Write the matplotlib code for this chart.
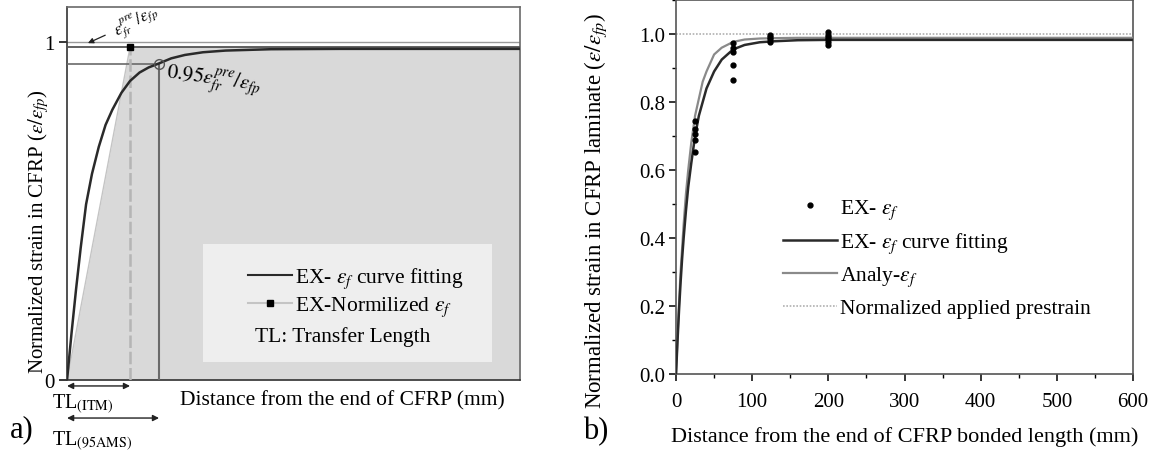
import matplotlib
matplotlib.use('Agg')
import matplotlib.pyplot as plt
from matplotlib.patches import Rectangle
from matplotlib.lines import Line2D
from matplotlib.ticker import MultipleLocator

plt.rcParams['font.family'] = ['Liberation Serif', 'DejaVu Serif']
plt.rcParams['mathtext.fontset'] = 'stix'

# ---- panel a (schematic, x in arbitrary units) ----
a_fit_x = [0, 1, 2, 3, 4.2, 5.5, 7, 8.5, 10, 12, 13.9, 16, 18, 20.3,
           23, 26, 30, 35, 45, 60, 80, 100]
a_fit_y = [0, 0.14, 0.27, 0.39, 0.52, 0.61, 0.69, 0.755, 0.80, 0.85, 0.885,
           0.91, 0.925, 0.937, 0.952, 0.962, 0.970, 0.975, 0.979, 0.980,
           0.980, 0.980]
a_norm_x = [0, 13.9, 100]
a_norm_y = [0, 0.985, 0.982]
a_point_x = [13.9]
a_point_y = [0.985]
a_pre = 0.985
a_95 = 0.936
a_tl_itm = 13.9
a_tl_95 = 20.3

# ---- panel b ----
b_ex_x = [25, 25, 25, 25, 25, 75, 75, 75, 75, 75, 123, 123, 123, 123,
          200, 200, 200, 200, 200, 200]
b_ex_y = [0.653, 0.688, 0.705, 0.72, 0.743, 0.865, 0.91, 0.947, 0.96, 0.974,
          0.978, 0.985, 0.99, 0.997, 0.968, 0.978, 0.985, 0.99, 0.997, 1.005]
b_fit_x = [0, 2, 4, 6, 8, 10, 13, 16, 20, 25, 30, 35, 40, 50, 60, 75, 90, 110,
           130, 160, 200, 300, 400, 500, 600]
b_fit_y = [0, 0.10, 0.19, 0.27, 0.34, 0.40, 0.48, 0.55, 0.62, 0.70, 0.76, 0.80,
           0.84, 0.89, 0.925, 0.955, 0.968, 0.976, 0.979, 0.982, 0.983, 0.983,
           0.983, 0.983, 0.983]
b_analy_x = [0, 2, 4, 6, 8, 10, 13, 16, 20, 25, 30, 35, 40, 50, 60, 75, 90, 110,
             130, 160, 200, 300, 400, 500, 600]
b_analy_y = [0, 0.11, 0.21, 0.30, 0.37, 0.44, 0.53, 0.60, 0.68, 0.76, 0.81, 0.86,
             0.89, 0.94, 0.96, 0.977, 0.984, 0.987, 0.988, 0.989, 0.989, 0.989,
             0.989, 0.989, 0.989]
b_prestrain = 1.0

fig = plt.figure(figsize=(11.56, 4.56), dpi=100)

# ================= panel a =================
ax = fig.add_axes([0.058, 0.1645, 0.392, 0.818])
ax.set_xlim(0, 100)
ax.set_ylim(0, 1.104)

ax.fill_between(a_norm_x, a_norm_y, 0, color='#d9d9d9', lw=0, zorder=1)
ax.plot(a_norm_x, a_norm_y, color='#c4c4c4', lw=1.0, zorder=2)
ax.axhline(1.0, color='#9a9a9a', lw=1.0, zorder=2)
ax.axhline(a_pre, color='#555555', lw=1.3, zorder=3)
ax.plot([0, a_tl_95], [a_95, a_95], color='#6a6a6a', lw=1.2, zorder=3)
ax.plot([a_tl_itm, a_tl_itm], [0, a_pre], color='#b5b5b5', lw=1.8,
        ls=(0, (5, 1.5)), zorder=3)
ax.plot([a_tl_95, a_tl_95], [0, a_95], color='#6a6a6a', lw=1.5, zorder=3)
ax.plot(a_fit_x, a_fit_y, color='#2a2a2a', lw=1.8, zorder=4)
ax.plot(a_point_x, a_point_y, 's', color='black', ms=5, zorder=5)
ax.plot([a_tl_95], [a_95], 'o', mfc='none', mec='#555555', ms=7, mew=1.0, zorder=5)

# legend box
ax.add_patch(Rectangle((0.300, 0.048), 0.638, 0.317, transform=ax.transAxes,
                       facecolor='#eeeeee', edgecolor='none', zorder=6))
h1 = Line2D([], [], color='#2a2a2a', lw=1.5)
h2 = Line2D([], [], color='#c4c4c4', lw=1.5, marker='s', mfc='black', mec='black', ms=4)
ax.legend([h1, h2], [r'EX- $\varepsilon_f$ curve fitting', r'EX-Normilized $\varepsilon_f$'],
          loc='upper left', bbox_to_anchor=(0.40, 0.306), frameon=False,
          fontsize=15.5, handlelength=2.05, handletextpad=0.1, labelspacing=0.2,
          borderpad=0, borderaxespad=0).set_zorder(7)
ax.text(0.415, 0.118, 'TL: Transfer Length', transform=ax.transAxes, fontsize=15.5,
        ha='left', va='center', zorder=8)

for s in ['top', 'right']:
    ax.spines[s].set_color('#6a6a6a')
for s in ['left', 'bottom']:
    ax.spines[s].set_color('#333333')
for s in ax.spines.values():
    s.set_linewidth(1.2)
ax.set_xticks([])
ax.set_yticks([0, 1])
ax.set_yticklabels(['0', '1'])
ax.tick_params(axis='y', labelsize=15, length=6, width=1.1, pad=3)

ax.text(-0.062, 0.40, r'Normalized strain in CFRP ($\varepsilon/\varepsilon_{fp}$)',
        transform=ax.transAxes, rotation=90, ha='center', va='center', fontsize=15)
ax.text(0.607, -0.052, 'Distance from the end of CFRP (mm)', transform=ax.transAxes,
        ha='center', va='center', fontsize=15.5)

# annotations
ax.annotate(r'$\varepsilon_{fr}^{pre}/\varepsilon_{fp}$', xy=(4.6, 0.997),
            xytext=(15.2, 1.062), fontsize=12, rotation=28, ha='center', va='center',
            arrowprops=dict(arrowstyle='-|>', color='#222222', lw=0.9,
                            mutation_scale=8, shrinkA=1, shrinkB=0))
ax.text(21.5, 0.885, r'$0.95\varepsilon_{fr}^{pre}/\varepsilon_{fp}$', fontsize=15,
        rotation=-8, ha='left', va='center', zorder=8)

ax.annotate('', xy=(0, -0.016), xytext=(a_tl_itm, -0.016),
            xycoords=('data', 'axes fraction'), textcoords=('data', 'axes fraction'),
            arrowprops=dict(arrowstyle='<|-|>', color='#222222', lw=1.0,
                            mutation_scale=9, shrinkA=0, shrinkB=0),
            annotation_clip=False)
ax.annotate('', xy=(0, -0.102), xytext=(a_tl_95, -0.102),
            xycoords=('data', 'axes fraction'), textcoords=('data', 'axes fraction'),
            arrowprops=dict(arrowstyle='<|-|>', color='#222222', lw=1.0,
                            mutation_scale=9, shrinkA=0, shrinkB=0),
            annotation_clip=False)
fig.text(52 / 1156, 1 - 404 / 456, r'TL$_{\mathrm{(ITM)}}$', fontsize=14.5,
         ha='left', va='center')
fig.text(52 / 1156, 1 - 441 / 456, r'TL$_{\mathrm{(95AMS)}}$', fontsize=14.5,
         ha='left', va='center')
fig.text(10 / 1156, 1 - 430 / 456, 'a)', fontsize=22, ha='left', va='center')

# ================= panel b =================
bx = fig.add_axes([0.5848, 0.1776, 0.3953, 0.820])
bx.set_xlim(0, 600)
bx.set_ylim(0, 1.1)

bx.axhline(b_prestrain, color='#b0b0b0', lw=1.2, ls=(0, (1, 1)), zorder=2,
           label='Normalized applied prestrain')
bx.plot(b_analy_x, b_analy_y, color='#8a8a8a', lw=1.6, zorder=3, label=r'Analy-$\varepsilon_f$')
bx.plot(b_fit_x, b_fit_y, color='#2a2a2a', lw=1.8, zorder=4,
        label=r'EX- $\varepsilon_f$ curve fitting')
bx.plot(b_ex_x, b_ex_y, 'o', color='black', ms=3.5, zorder=5, label=r'EX- $\varepsilon_f$')

hs, ls = bx.get_legend_handles_labels()
order = [3, 2, 1, 0]
bx.legend([hs[i] for i in order], [ls[i] for i in order], loc='upper left',
          bbox_to_anchor=(0.234, 0.472), frameon=False, fontsize=15.5,
          handlelength=2.5, handletextpad=0.15, labelspacing=0.45,
          borderpad=0, borderaxespad=0)

for s in bx.spines.values():
    s.set_color('#555555')
    s.set_linewidth(1.2)
bx.xaxis.set_major_locator(MultipleLocator(100))
bx.xaxis.set_minor_locator(MultipleLocator(50))
bx.yaxis.set_minor_locator(MultipleLocator(0.1))
bx.set_yticks([0, 0.2, 0.4, 0.6, 0.8, 1.0])
bx.set_yticklabels(['0.0', '0.2', '0.4', '0.6', '0.8', '1.0'])
bx.tick_params(which='major', labelsize=15, length=5, width=1.1, direction='out')
bx.tick_params(axis='x', which='major', pad=8)
bx.tick_params(axis='y', which='major', pad=3)
bx.tick_params(which='minor', length=3, width=1.0, direction='out')

bx.text(-0.175, 0.44, r'Normalized strain in CFRP laminate ($\varepsilon/\varepsilon_{fp}$)',
        transform=bx.transAxes, rotation=90, ha='center', va='center', fontsize=16.5)
bx.text(0.5, -0.166, 'Distance from the end of CFRP bonded length (mm)',
        transform=bx.transAxes, ha='center', va='center', fontsize=16)
fig.text(583 / 1156, 1 - 432 / 456, 'b)', fontsize=22, ha='left', va='center')

fig.savefig('out.png', dpi=100)
